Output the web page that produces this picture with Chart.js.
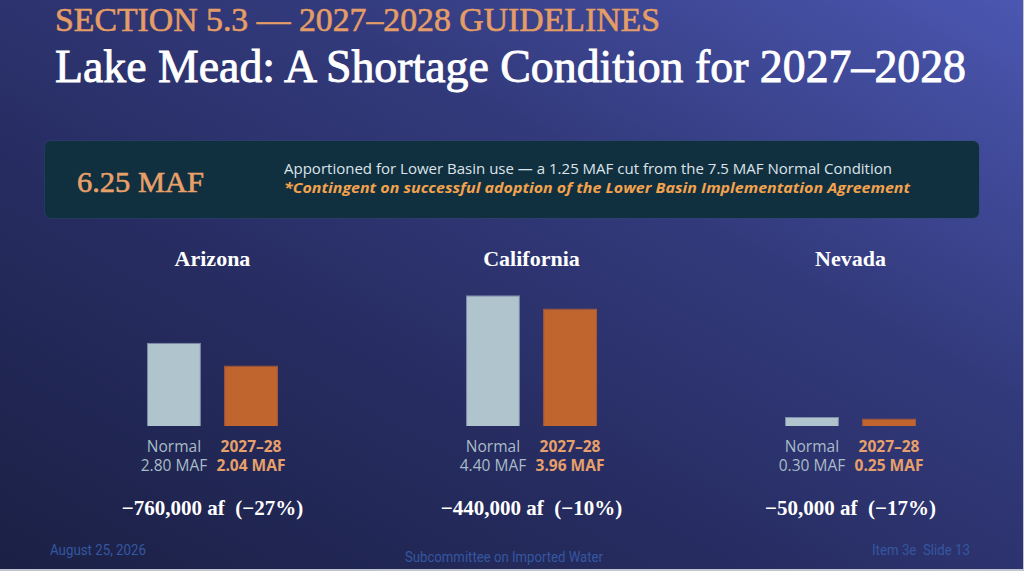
<!DOCTYPE html>
<html>
<head>
<meta charset="utf-8">
<script src="https://cdn.jsdelivr.net/npm/chart.js@4.4.1/dist/chart.umd.min.js"></script>
<style>
  html, body { margin: 0; padding: 0; }
  body {
    width: 1024px; height: 571px; overflow: hidden; position: relative;
    background: linear-gradient(to bottom left, #4b57b1 0%, #333a7c 35%, #262c60 65%, #1b2045 100%);
    font-family: "Open Sans", sans-serif;
  }
  .t { position: absolute; white-space: pre; display: inline-block; line-height: 1; }
  .serif { font-family: "Liberation Serif", serif; }
  #section { left: 55px; top: 4px; font-size: 33px; color: #e49d67; -webkit-text-stroke: 0.6px #e49d67; transform-origin: left center; }
  #title { left: 55px; top: 43px; font-size: 47px; color: #ffffff; -webkit-text-stroke: 0.9px #ffffff; transform-origin: left center; }
  #box {
    position: absolute; left: 45px; top: 141px; width: 934px; height: 77px;
    background: #10303f; border-radius: 6px; box-shadow: 0 0 0 1px rgba(40,80,100,0.35);
  }
  #big { left: 77px; top: 167px; font-size: 30px; color: #e8a06a; -webkit-text-stroke: 0.6px #e8a06a; transform-origin: left center; }
  #line1 { left: 284px; top: 162px; font-size: 14px; color: #dde3ea; transform-origin: left center; }
  #line2 { left: 284px; top: 181px; font-size: 14.5px; color: #f3a24e; font-weight: bold; font-style: italic; transform-origin: left center; }
  .state { font-family: "Liberation Serif", serif; font-weight: bold; font-size: 22px; color: #ffffff; }
  .lbl { font-size: 15.5px; }
  .norm { color: #a9bcc8; }
  .short { color: #e8a06a; font-weight: bold; }
  .cut { font-family: "Liberation Serif", serif; font-weight: bold; font-size: 21px; color: #ffffff; }
  .foot { font-family: Roboto, sans-serif; font-size: 15px; color: #3557a0; transform-origin: left center; }
  #chartBox { position: absolute; left: 53px; top: 275.5px; width: 957px; height: 150px; }
  #edgeR { position: absolute; right: 0; top: 0; width: 1px; height: 571px; background: #c3c6ce; }
  #edgeB { position: absolute; left: 0; bottom: 0; width: 1024px; height: 2px; background: #c3c6ce; }
</style>
</head>
<body>
<span id="section" class="t serif">SECTION 5.3 — 2027–2028 GUIDELINES</span>
<span id="title" class="t serif">Lake Mead: A Shortage Condition for 2027–2028</span>
<div id="box"></div>
<span id="big" class="t serif">6.25 MAF</span>
<span id="line1" class="t">Apportioned for Lower Basin use — a 1.25 MAF cut from the 7.5 MAF Normal Condition</span>
<span id="line2" class="t">*Contingent on successful adoption of the Lower Basin Implementation Agreement</span>
<div id="chartBox"><canvas id="myChart"></canvas></div>
<span id="f1" class="t foot">August 25, 2026</span>
<span id="f2" class="t foot">Subcommittee on Imported Water</span>
<span id="f3" class="t foot">Item 3e  Slide 13</span>
<div id="edgeR"></div>
<div id="edgeB"></div>
<script>
// data (million acre-feet)
var states = ['Arizona', 'California', 'Nevada'];
var seriesNames = ['Normal', '2027–28'];
var normalMaf = [2.80, 4.40, 0.30];
var shortageMaf = [2.04, 3.96, 0.25];
var cutAf = ['−760,000', '−440,000', '−50,000'];
var cutPct = ['−27%', '−10%', '−17%'];

function fit(id, w) {
    var el = document.getElementById(id);
    var r = el.getBoundingClientRect().width;
    el.style.transform = 'scaleX(' + (w / r) + ')';
}
fit('section', 605);
fit('title', 911);
fit('big', 127);
fit('line1', 608);
fit('line2', 626);
fit('f1', 96);
fit('f3', 98);
fit('f2', 198);
document.getElementById('f1').style.left = '50px';
document.getElementById('f1').style.top = '543px';
document.getElementById('f2').style.left = '405px';
document.getElementById('f2').style.top = '550px';
document.getElementById('f3').style.left = '872px';
document.getElementById('f3').style.top = '543px';

var ctx = document.getElementById('myChart').getContext('2d');
var chart = new Chart(ctx, {
    type: 'bar',
    data: {
        labels: states,
        datasets: [{
            label: seriesNames[0],
            data: normalMaf,
            backgroundColor: '#b0c4cd',
            borderColor: '#7d8fab',
            borderWidth: 1
        }, {
            label: seriesNames[1],
            data: shortageMaf,
            backgroundColor: '#c0652e',
            borderColor: '#a8583a',
            borderWidth: 1
        }]
    },
    options: {
        responsive: true,
        maintainAspectRatio: false,
        animation: false,
        layout: { padding: 0 },
        categoryPercentage: 0.483,
        barPercentage: 0.70,
        plugins: { legend: { display: false }, tooltip: { enabled: false } },
        scales: {
            x: { display: false },
            y: { display: false, min: 0, max: 5.05 }
        }
    }
});

// text under and above each group, placed from the chart's own bar positions
function addText(cls, txt, cx, top) {
    var s = document.createElement('span');
    s.className = 't ' + cls;
    s.textContent = txt;
    document.body.appendChild(s);
    var w = s.getBoundingClientRect().width;
    s.style.left = (cx - w / 2) + 'px';
    s.style.top = top + 'px';
}
var box = document.getElementById('chartBox');
var ox = box.offsetLeft;
for (var i = 0; i < states.length; i++) {
    var b0 = chart.getDatasetMeta(0).data[i];
    var b1 = chart.getDatasetMeta(1).data[i];
    var cx = ox + (b0.x + b1.x) / 2;
    addText('state', states[i], cx, 248);
    addText('lbl norm', seriesNames[0], ox + b0.x, 439);
    addText('lbl norm', normalMaf[i].toFixed(2) + ' MAF', ox + b0.x, 458);
    addText('lbl short', seriesNames[1], ox + b1.x, 439);
    addText('lbl short', shortageMaf[i].toFixed(2) + ' MAF', ox + b1.x, 458);
    addText('cut', cutAf[i] + ' af  (' + cutPct[i] + ')', cx, 498);
}
</script>
</body>
</html>
